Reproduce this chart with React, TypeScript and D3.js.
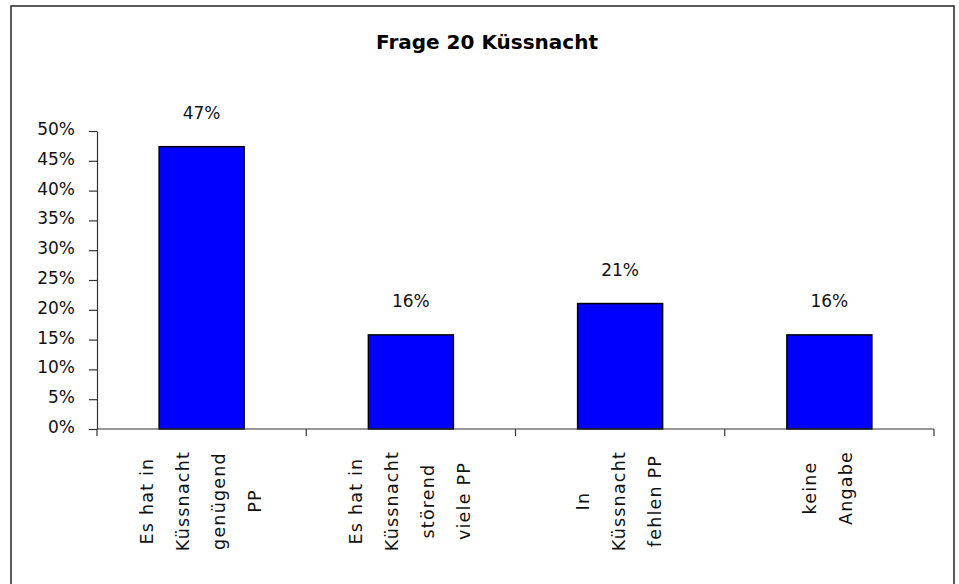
import React, { useEffect, useRef } from "react";
import * as d3 from "d3";

const title = "Frage 20 Küssnacht";
const categories = ["c1", "c2", "c3", "c4"];
const categoryLines = [
  ["Es hat in", "Küssnacht", "genügend", "PP"],
  ["Es hat in", "Küssnacht", "störend", "viele PP"],
  ["In", "Küssnacht", "fehlen PP"],
  ["keine", "Angabe"],
];
const values = [0.4737, 0.1579, 0.2105, 0.1579];
const yTicks = [0, 0.05, 0.1, 0.15, 0.2, 0.25, 0.3, 0.35, 0.4, 0.45, 0.5];

const W = 959;
const H = 584;
const FONT = "'DejaVu Sans', sans-serif";

export default function App() {
  const ref = useRef<SVGSVGElement | null>(null);

  useEffect(() => {
    const svg = d3.select(ref.current);
    svg.selectAll("*").remove();

    // outer frame (bottom edge off-canvas)
    svg
      .append("rect")
      .attr("x", 11)
      .attr("y", 6)
      .attr("width", 943)
      .attr("height", 620)
      .attr("fill", "#fff")
      .attr("stroke", "#222")
      .attr("stroke-width", 1.5);

    const x = d3.scaleBand<string>().domain(categories).range([97, 934]).padding(0);
    const y = d3.scaleLinear().domain([0, 0.5]).range([429, 131]);
    const pct = d3.format(".0%");

    // title
    svg
      .append("text")
      .attr("x", 487)
      .attr("y", 49)
      .attr("text-anchor", "middle")
      .attr("font-family", FONT)
      .attr("font-weight", "bold")
      .attr("font-size", 20)
      .attr("fill", "#000")
      .text(title);

    // y axis
    const yAxis = d3
      .axisLeft(y)
      .tickValues(yTicks)
      .tickFormat((d) => pct(d as number))
      .tickSize(8)
      .tickSizeOuter(0)
      .tickPadding(14);
    const gy = svg.append("g").attr("transform", "translate(97,0)").call(yAxis);
    gy.select(".domain").attr("stroke", "#333").attr("stroke-width", 1.2);
    gy.selectAll(".tick line").attr("stroke", "#333").attr("stroke-width", 1.2);
    gy.selectAll(".tick text")
      .attr("font-family", FONT)
      .attr("font-size", 17)
      .attr("fill", "#111")
      .attr("dy", "0.2em");

    // bars
    const bw = 85;
    svg
      .append("g")
      .selectAll("rect")
      .data(values)
      .join("rect")
      .attr("x", (_, i) => x(categories[i])! + x.bandwidth() / 2 - bw / 2)
      .attr("y", (d) => y(d))
      .attr("width", bw)
      .attr("height", (d) => y(0) - y(d))
      .attr("fill", "#0000FF")
      .attr("stroke", "#000")
      .attr("stroke-width", 1.5);

    // x axis
    svg
      .append("line")
      .attr("x1", 97)
      .attr("x2", 934)
      .attr("y1", y(0))
      .attr("y2", y(0))
      .attr("stroke", "#333")
      .attr("stroke-width", 1.2);
    const bounds = categories.map((c) => x(c)!).concat([934]);
    svg
      .append("g")
      .selectAll("line")
      .data(bounds)
      .join("line")
      .attr("x1", (d) => d)
      .attr("x2", (d) => d)
      .attr("y1", y(0))
      .attr("y2", y(0) + 7)
      .attr("stroke", "#333")
      .attr("stroke-width", 1.2);

    // data labels
    svg
      .append("g")
      .selectAll("text")
      .data(values)
      .join("text")
      .attr("x", (_, i) => x(categories[i])! + x.bandwidth() / 2)
      .attr("y", (d) => y(d) - 28)
      .attr("text-anchor", "middle")
      .attr("font-family", FONT)
      .attr("font-size", 17)
      .attr("fill", "#111")
      .text((d) => pct(d));

    // category labels (rotated, multi-line)
    const lineGap = 36;
    const topY = 451;
    categoryLines.forEach((lines, i) => {
      const cx = x(categories[i])! + x.bandwidth() / 2 + 5;
      const g = svg.append("g");
      const texts = lines.map((ln, j) => {
        const bx = cx + (j - (lines.length - 1) / 2) * lineGap;
        return g
          .append("text")
          .attr("font-family", FONT)
          .attr("font-size", 17.5)
          .attr("letter-spacing", 1.2)
          .attr("fill", "#111")
          .attr("text-anchor", "middle")
          .attr("data-bx", bx)
          .text(ln);
      });
      const maxLen = d3.max(texts, (t) => (t.node() as SVGTextElement).getComputedTextLength()) || 0;
      const cy = topY + maxLen / 2;
      texts.forEach((t) => {
        const bx = +t.attr("data-bx");
        t.attr("transform", `translate(${bx},${cy}) rotate(-90)`);
      });
    });
  }, []);

  return (
    <svg
      ref={ref}
      width={W}
      height={H}
      style={{ position: "absolute", left: 0, top: 0, background: "#fff" }}
    />
  );
}
